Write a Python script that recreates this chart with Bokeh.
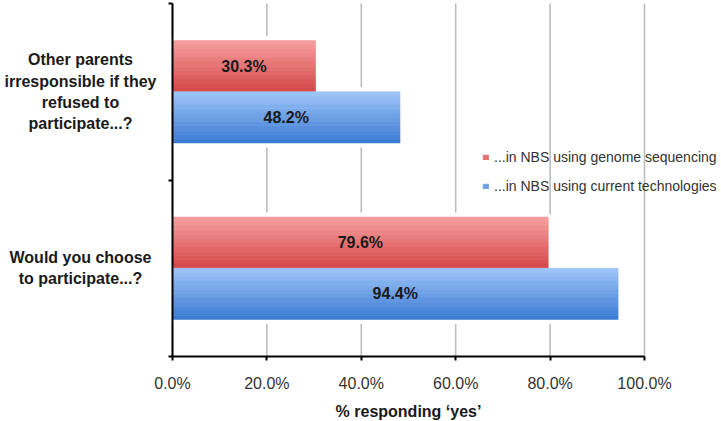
from bokeh.plotting import figure
from bokeh.models import (Range1d, FixedTicker, Label, Legend, LegendItem,
                          ColumnDataSource, LinearAxis)
from bokeh.core.properties import value
from bokeh.embed import file_html
from bokeh.resources import INLINE

# ---- data ----
categories = ["Would you choose\nto participate...?",
              "Other parents\nirresponsible if they\nrefused to\nparticipate...?"]
genome_seq = [79.6, 30.3]      # ...in NBS using genome sequencing
current_tech = [94.4, 48.2]    # ...in NBS using current technologies
series_names = ["...in NBS using genome sequencing",
                "...in NBS using current technologies"]
x_ticks = [0, 20, 40, 60, 80, 100]
x_tick_labels = ["0.0%", "20.0%", "40.0%", "60.0%", "80.0%", "100.0%"]
x_title = "% responding \u2018yes\u2019"

# ---- layout (pixels) ----
W, H = 720, 420
AX_L, AX_R = 172, 644        # x of 0% and 100%
AX_T, AX_B = 3, 356          # y of top and bottom of category axis
n_cat = len(categories)
ppx = (AX_R - AX_L) / 100.0
ppy = (AX_B - AX_T) / n_cat
x_range = Range1d(-AX_L / ppx, (W - AX_L) / ppx)
y_range = Range1d(-(H - AX_B) / ppy, n_cat + AX_T / ppy)

FONT = "Liberation Sans"
red_top, red_bot = (247, 160, 160), (213, 70, 70)
blue_top, blue_bot = (160, 198, 249), (58, 122, 210)

p = figure(width=W, height=H, output_backend="svg", toolbar_location=None,
           x_range=x_range, y_range=y_range,
           x_axis_location=None, y_axis_location=None)
p.min_border_left = p.min_border_right = p.min_border_top = p.min_border_bottom = 0
p.outline_line_color = None
p.grid.visible = False

# vertical grid lines at the x ticks, spanning the category axis
p.segment(x0=x_ticks, y0=[0] * len(x_ticks), x1=x_ticks, y1=[n_cat] * len(x_ticks),
          line_color="#bdbdbd", line_width=1.6)

bar_h = 0.29
N = 12

def lerp(a, b, t):
    return "#%02x%02x%02x" % tuple(int(round(a[k] + (b[k] - a[k]) * t)) for k in range(3))

centers = [i + 0.5 for i in range(n_cat)]
series = [(genome_seq, +bar_h / 2, red_top, red_bot),
          (current_tech, -bar_h / 2, blue_top, blue_bot)]

# white halos behind bars
for vals, off, _, _ in series:
    src = ColumnDataSource(dict(y=[c + off for c in centers], right=vals))
    p.hbar(y="y", left=0, right="right", height=bar_h, source=src,
           fill_color="white", line_color="white", line_width=9)

legend_renderers = []
for vals, off, top, bot in series:
    mid = None
    for i in range(N):
        t = (i + 0.5) / N
        col = lerp(top, bot, t)
        ys = [c + off + bar_h / 2 - (i + 0.5) * bar_h / N for c in centers]
        r = p.hbar(y=ys, left=0, right=vals, height=bar_h / N,
                   fill_color=col, line_color=col, line_width=0.6)
        if i == N // 2:
            mid = r
    legend_renderers.append(mid)
    p.text(x=[v / 2 for v in vals], y=[c + off for c in centers],
           text=["%.1f%%" % v for v in vals], text_align="center",
           text_baseline="middle", text_font=value(FONT), text_font_style="bold",
           text_font_size="16px", text_color="#1a1a1a")

# x axis drawn at y = 0
xa = LinearAxis(fixed_location=0, bounds=(0, 100), ticker=FixedTicker(ticks=x_ticks))
xa.major_label_overrides = {t: l for t, l in zip(x_ticks, x_tick_labels)}
xa.major_label_text_font = FONT
xa.major_label_text_font_size = "16px"
xa.major_label_text_color = "#333333"
xa.major_label_standoff = 14
xa.axis_line_width = 2
xa.axis_line_color = "black"
xa.major_tick_out = 4
xa.major_tick_in = 0
xa.major_tick_line_width = 2
xa.minor_tick_line_color = None
p.add_layout(xa, "below")

# category axis drawn at x = 0 (ticks at category boundaries)
ya = LinearAxis(fixed_location=0, bounds=(0, n_cat),
                ticker=FixedTicker(ticks=list(range(n_cat + 1))))
ya.major_label_overrides = {i: "" for i in range(n_cat + 1)}
ya.axis_line_width = 2
ya.axis_line_color = "black"
ya.major_tick_out = 4
ya.major_tick_in = 0
ya.major_tick_line_width = 2
ya.minor_tick_line_color = None
p.add_layout(ya, "left")

for c, lab in zip(centers, categories):
    p.add_layout(Label(x=(80 - AX_L) / ppx, y=c, text=lab, text_align="center",
                       text_baseline="middle", text_font=FONT,
                       text_font_style="bold", text_font_size="16px",
                       text_color="#1a1a1a", text_line_height=1.25))

p.add_layout(Label(x=50, y=-(411 - AX_B) / ppy, text=x_title, text_align="center",
                   text_baseline="middle", text_font=FONT, text_font_style="bold",
                   text_font_size="16px", text_color="#1a1a1a"))

legend = Legend(items=[LegendItem(label=series_names[0], renderers=[legend_renderers[0]]),
                       LegendItem(label=series_names[1], renderers=[legend_renderers[1]])],
                location=(482, H - 182 - 14), orientation="vertical",
                glyph_width=7, glyph_height=6, label_standoff=5,
                label_height=20, spacing=9, padding=0, margin=0,
                border_line_color=None, background_fill_alpha=0,
                label_text_font=FONT, label_text_font_size="14px",
                label_text_color="#333333")
p.add_layout(legend)

open("out.html", "w").write(file_html(p, INLINE))
